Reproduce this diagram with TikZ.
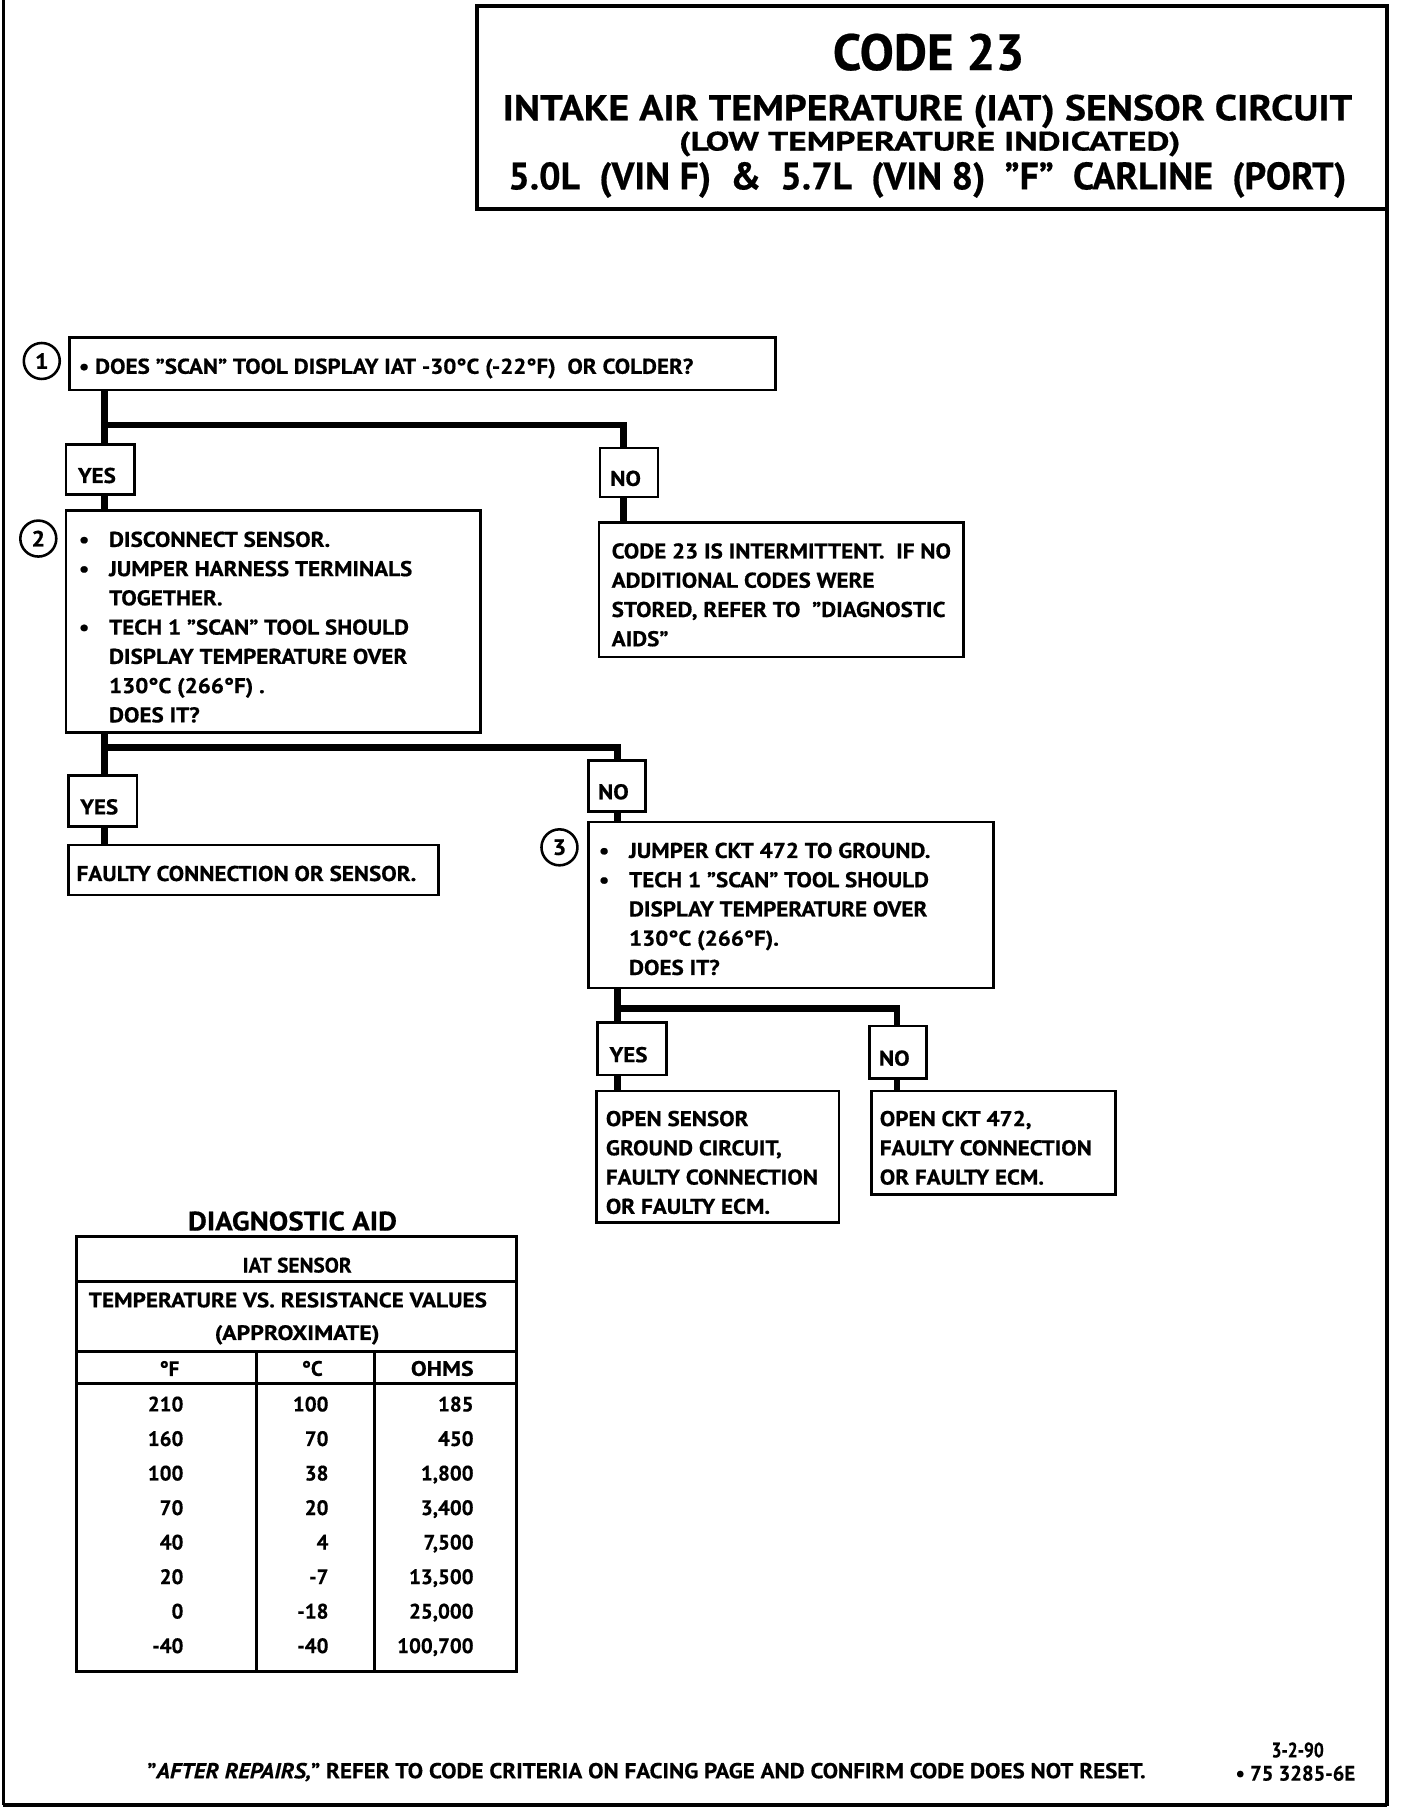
\documentclass[tikz,border=0pt]{standalone}
\usepackage{fontspec}
\usepackage{graphicx}
\setmainfont{PT Sans}
\newfontfamily\cf{PT Sans}[FakeBold=0.5]
\newfontfamily\cfx{PT Sans}[FakeStretch=1.08,FakeBold=0.6]
\newcommand\fitw[2]{\resizebox{#1}{\height}{#2}}
\newcommand\bl{\makebox[13pt][l]{\textbullet}}
\newcommand\hi{\hspace*{13pt}}
\newcommand\ynl[1]{\raisebox{-2.8pt}[6pt][0pt]{#1\hspace{3pt}}}
\tikzset{
  every node/.style={inner sep=0pt, outer sep=0pt},
  bx/.style={draw, line width=1.1pt, fill=white, rectangle, inner sep=0pt, anchor=north west},
  yn/.style={bx, font=\cfx\bfseries\fontsize{9.2}{10}\selectfont},
  conn/.style={line width=2.8pt, line join=miter},
  txt/.style={anchor=north west, align=left, font=\cfx\bfseries\fontsize{9.2}{12.6}\selectfont},
  ltxt/.style={anchor=base west, font=\cfx\bfseries\fontsize{9.2}{12.6}\selectfont},
  num/.style={circle, draw, line width=1.1pt, fill=white, minimum size=15.5pt, font=\cfx\bfseries\fontsize{9.5}{10}\selectfont},
  tt/.style={font=\cf\bfseries\fontsize{9}{10}\selectfont},
  frame/.style={line width=1.5pt},
}
\begin{document}
\begin{tikzpicture}[x=0.5pt,y=-0.5pt]
\useasboundingbox (0,0) rectangle (1213,1568);
% page frame
\draw[frame] (3,0) -- (3,1555);
\draw[line width=2pt] (3,1555) -- (1195,1555);
\draw[frame] (1195,5) -- (1195,1556);
% title block
\node[draw, line width=1.6pt, anchor=north west, minimum width=392pt, minimum height=87.5pt] (tb) at (411,5) {};
\node[font=\cf\bfseries\fontsize{22}{24}\selectfont] (ttl1) at (800,45) {\fitw{82.5pt}{CODE 23}};
\node[font=\cf\bfseries\fontsize{15.5}{17}\selectfont] (ttl2) at (799,96) {\fitw{366pt}{INTAKE AIR TEMPERATURE (IAT) SENSOR CIRCUIT}};
\node[font=\cf\bfseries\fontsize{11.5}{13}\selectfont] (ttl3) at (801,124) {\fitw{216pt}{(LOW TEMPERATURE INDICATED)}};
\node[font=\cf\bfseries\fontsize{16.5}{18}\selectfont] (ttl4) at (799,155) {\fitw{361pt}{5.0L\ \ (VIN F)\ \ \&\ \ 5.7L\ \ (VIN 8)\ \ ”F”\ \ CARLINE\ \ (PORT)}};

% boxes
\node[bx, minimum width=304pt, minimum height=22.5pt] (q1) at (60,291) {};
\node[yn, minimum width=29.5pt, minimum height=21.5pt] (y1) at (57,383) {\ynl{YES}};
\node[yn, minimum width=25pt, minimum height=21pt] (n1) at (517,386) {\ynl{NO}};
\node[bx, minimum width=178.5pt, minimum height=95.5pt] (q2) at (57,440) {};
\node[bx, minimum width=157pt, minimum height=58pt] (r1) at (516,450) {};
\node[yn, minimum width=29.5pt, minimum height=22pt] (y2) at (59,668) {\ynl{YES}};
\node[yn, minimum width=24.5pt, minimum height=22pt] (n2) at (507,655) {\ynl{NO}};
\node[bx, minimum width=159.5pt, minimum height=21.5pt] (r2) at (59,728) {};
\node[bx, minimum width=174.5pt, minimum height=71.5pt] (q3) at (507,708) {};
\node[yn, minimum width=29.5pt, minimum height=22.5pt] (y3) at (515,881) {\ynl{YES}};
\node[yn, minimum width=24.5pt, minimum height=22.5pt] (n3) at (749,884) {\ynl{NO}};
\node[bx, minimum width=104.5pt, minimum height=56.5pt] (r3) at (514,940) {};
\node[bx, minimum width=105pt, minimum height=44.5pt] (r4) at (751,940) {};

% step numbers
\node[num] (c1) at (36,311) {1};
\node[num] (c2) at (33,464) {2};
\node[num] (c3) at (482,730) {3};

% box texts
\node[ltxt] (t1) at (68,322) {\textbullet\ DOES ”SCAN” TOOL DISPLAY IAT -30°C (-22°F)\ \ OR COLDER?};
\node[txt] (t2) at (68,458) {\bl DISCONNECT SENSOR.\\
\bl JUMPER HARNESS TERMINALS\\
\hi TOGETHER.\\
\bl TECH 1 ”SCAN” TOOL SHOULD\\
\hi DISPLAY TEMPERATURE OVER\\
\hi 130°C (266°F) .\\
\hi DOES IT?};
\node[txt] (t3) at (527,468) {CODE 23 IS INTERMITTENT.\ \ IF NO\\
ADDITIONAL CODES WERE\\
STORED, REFER TO\ \ ”DIAGNOSTIC\\
AIDS”};
\node[ltxt] (t4) at (66,759) {FAULTY CONNECTION OR SENSOR.};
\node[txt] (t5) at (516,726) {\bl JUMPER CKT 472 TO GROUND.\\
\bl TECH 1 ”SCAN” TOOL SHOULD\\
\hi DISPLAY TEMPERATURE OVER\\
\hi 130°C (266°F).\\
\hi DOES IT?};
\node[txt] (t6) at (522,957) {OPEN SENSOR\\
GROUND CIRCUIT,\\
FAULTY CONNECTION\\
OR FAULTY ECM.};
\node[txt] (t7) at (758,957) {OPEN CKT 472,\\
FAULTY CONNECTION\\
OR FAULTY ECM.};

% connectors
\coordinate (j1a) at (90,366);
\coordinate (j1b) at (537,366);
\draw[conn] (j1a |- q1.south) -- (j1a) -- (j1b) -- (j1b |- n1.north);
\draw[conn] (j1a) -- (j1a |- y1.north);
\draw[conn] (j1a |- y1.south) -- (j1a |- q2.north);
\draw[conn] (j1b |- n1.south) -- (j1b |- r1.north);
\coordinate (j2a) at (90,644);
\coordinate (j2b) at (532,644);
\draw[conn] (j2a |- q2.south) -- (j2a) -- (j2b) -- (j2b |- n2.north);
\draw[conn] (j2a) -- (j2a |- y2.north);
\draw[conn] (j2a |- y2.south) -- (j2a |- r2.north);
\draw[conn] (j2b |- n2.south) -- (j2b |- q3.north);
\coordinate (j3a) at (532,869);
\coordinate (j3b) at (773,869);
\draw[conn] (j3a |- q3.south) -- (j3a) -- (j3b) -- (j3b |- n3.north);
\draw[conn] (j3a) -- (j3a |- y3.north);
\draw[conn] (j3a |- y3.south) -- (j3a |- r3.north);
\draw[conn] (j3b |- n3.south) -- (j3b |- r4.north);

% diagnostic aid table
\node[font=\cf\bfseries\fontsize{11.5}{13}\selectfont] (dah) at (252,1052) {\fitw{90pt}{DIAGNOSTIC AID}};
\draw[line width=1.3pt] (66,1065) rectangle (445,1440);
\draw[line width=1.3pt] (66,1104) -- (445,1104);
\draw[line width=1.3pt] (66,1164) -- (445,1164);
\draw[line width=1.3pt] (66,1192) -- (445,1192);
\draw[line width=1.3pt] (221,1164) -- (221,1440);
\draw[line width=1.3pt] (323,1164) -- (323,1440);
\node[tt] (th1) at (256,1090) {\fitw{47pt}{IAT SENSOR}};
\node[tt] (th2) at (248,1120) {\fitw{171.5pt}{TEMPERATURE VS. RESISTANCE VALUES}};
\node[tt] (th3) at (256,1150) {\fitw{71pt}{(APPROXIMATE)}};
\node[tt] (hf) at (146,1179) {°F};
\node[tt] (hc) at (269,1179) {°C};
\node[tt] (ho) at (381,1179) {\fitw{27pt}{OHMS}};
\foreach \f/\c/\o [count=\i from 0] in {210/100/185, 160/70/450, 100/38/{1,800}, 70/20/{3,400}, 40/4/{7,500}, 20/-7/{13,500}, 0/-18/{25,000}, -40/-40/{100,700}}{
  \pgfmathsetmacro\yy{1216+29.74*\i}
  \node[tt, anchor=base east] (df\i) at (158,\yy) {\f};
  \node[tt, anchor=base east] (dc\i) at (283,\yy) {\c};
  \node[tt, anchor=base east] (do\i) at (408,\yy) {\o};
}

% footer
\node[anchor=base, font=\cf\bfseries\fontsize{9.3}{11}\selectfont] (foot) at (557,1532) {\fitw{430pt}{”\textit{AFTER REPAIRS,}” REFER TO CODE CRITERIA ON FACING PAGE AND CONFIRM CODE DOES NOT RESET.}};
\node[anchor=base, font=\cf\bfseries\fontsize{9}{11}\selectfont] (dt) at (1118,1514) {\fitw{22.5pt}{3-2-90}};
\node[anchor=base, font=\cf\bfseries\fontsize{9}{11}\selectfont] (pn) at (1116,1534) {\fitw{51.5pt}{\textbullet\ 75 3285-6E}};
\end{tikzpicture}
\end{document}
